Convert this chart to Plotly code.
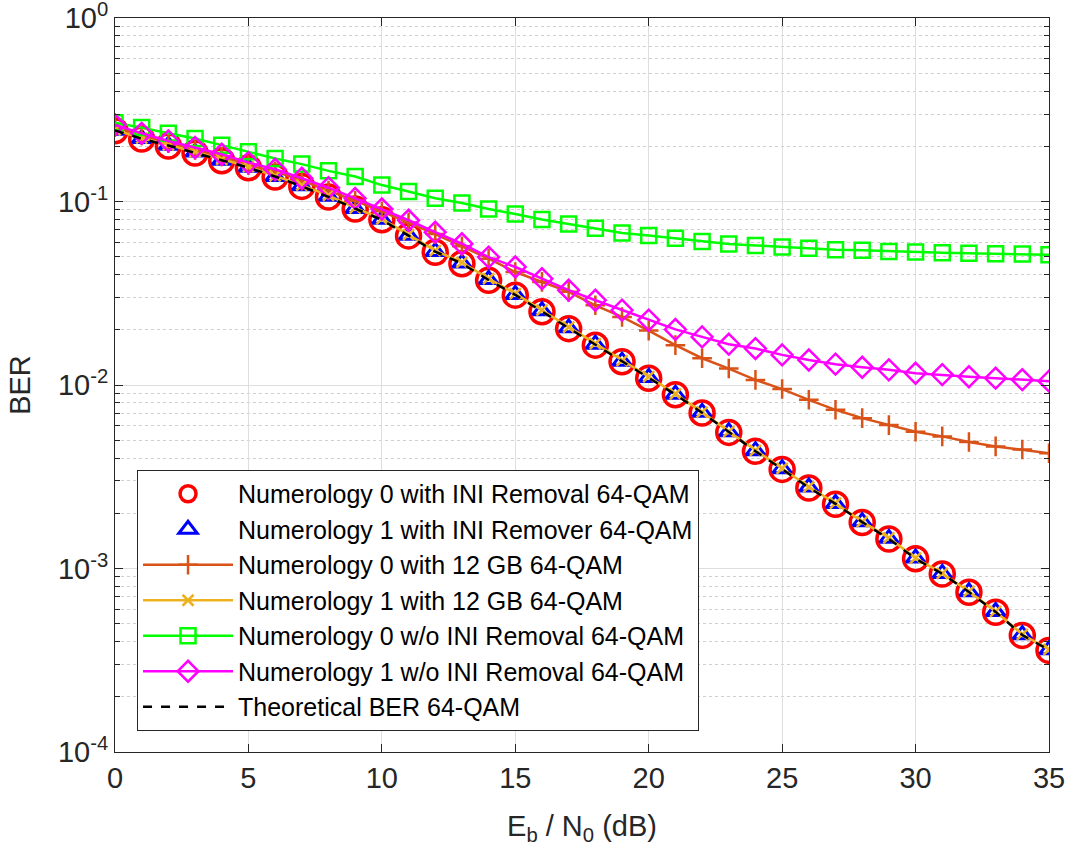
import plotly.graph_objects as go

ebn0 = list(range(0, 36))

num0_ini_removal = [0.243, 0.219, 0.201, 0.184, 0.167, 0.153, 0.136, 0.121, 0.106, 0.0911,
                    0.0795, 0.0650, 0.0530, 0.0458, 0.0372, 0.0309, 0.0251, 0.0203, 0.0165, 0.0134,
                    0.0109, 0.00885, 0.00704, 0.00552, 0.00435, 0.00347, 0.00275, 0.00224, 0.00178, 0.00145,
                    0.00113, 0.000934, 0.000742, 0.000578, 0.000432, 0.000358]

num1_ini_remover = [0.245, 0.221, 0.203, 0.186, 0.168, 0.154, 0.137, 0.122, 0.107, 0.0918,
                    0.0800, 0.0655, 0.0535, 0.0462, 0.0376, 0.0312, 0.0254, 0.0205, 0.0167, 0.0135,
                    0.0110, 0.00892, 0.00710, 0.00557, 0.00439, 0.00350, 0.00278, 0.00226, 0.00180, 0.00146,
                    0.00114, 0.000940, 0.000748, 0.000583, 0.000436, 0.000361]

num0_12gb = [0.255, 0.229, 0.208, 0.191, 0.176, 0.158, 0.146, 0.130, 0.115, 0.101,
             0.0885, 0.0770, 0.0665, 0.0570, 0.0488, 0.0413, 0.0365, 0.0322, 0.0272, 0.0235,
             0.0198, 0.0165, 0.0140, 0.0123, 0.01067, 0.00951, 0.00831, 0.00733, 0.00660, 0.00605,
             0.00557, 0.00525, 0.00489, 0.00463, 0.00445, 0.00425]

num1_12gb = [0.246, 0.222, 0.204, 0.187, 0.170, 0.155, 0.138, 0.123, 0.108, 0.0925,
             0.0805, 0.0660, 0.0540, 0.0466, 0.0380, 0.0315, 0.0256, 0.0207, 0.0168, 0.0136,
             0.0111, 0.00895, 0.00712, 0.00558, 0.00440, 0.00351, 0.00279, 0.00227, 0.00180, 0.00147,
             0.00114, 0.000942, 0.000750, 0.000584, 0.000437, 0.000362]

num0_wo_ini = [0.269, 0.253, 0.2355, 0.2205, 0.203, 0.1867, 0.1717, 0.160, 0.147, 0.137,
               0.123, 0.1134, 0.1042, 0.0982, 0.0911, 0.0856, 0.0798, 0.0755, 0.0716, 0.0675,
               0.0653, 0.0632, 0.0606, 0.0588, 0.0577, 0.0565, 0.0557, 0.0546, 0.0542, 0.0535,
               0.0531, 0.0526, 0.0522, 0.0519, 0.0518, 0.0513]

num1_wo_ini = [0.262, 0.2355, 0.214, 0.197, 0.181, 0.163, 0.150, 0.134, 0.119, 0.104,
               0.0911, 0.0791, 0.0681, 0.0589, 0.0498, 0.0440, 0.0380, 0.0329, 0.0290, 0.0256,
               0.0226, 0.0201, 0.0183, 0.0167, 0.0158, 0.0146, 0.0137, 0.0130, 0.0125, 0.0121,
               0.0116, 0.0114, 0.0111, 0.0109, 0.0107, 0.0105]

theory = [0.244, 0.220, 0.202, 0.185, 0.168, 0.153, 0.137, 0.121, 0.106, 0.0915,
          0.0795, 0.0652, 0.0533, 0.0460, 0.0374, 0.0310, 0.0252, 0.0204, 0.0166, 0.0134,
          0.0109, 0.00888, 0.00706, 0.00554, 0.00436, 0.00348, 0.00276, 0.00225, 0.00179, 0.00145,
          0.00113, 0.000936, 0.000744, 0.000580, 0.000434, 0.000359]

y_tickvals = [1e-4, 1e-3, 1e-2, 1e-1, 1e0]
y_ticktext = ["10<sup>-4</sup>", "10<sup>-3</sup>", "10<sup>-2</sup>", "10<sup>-1</sup>", "10<sup>0</sup>"]
x_tickvals = [0, 5, 10, 15, 20, 25, 30, 35]

FONT = "Liberation Sans, Arial, sans-serif"
AXC = "#262626"

fig = go.Figure()

fig.add_trace(go.Scatter(
    x=ebn0, y=num0_ini_removal, mode="markers", name="Numerology 0 with INI Removal 64-QAM",
    marker=dict(symbol="circle-open", size=24, color="#FF0000", line=dict(width=3.5, color="#FF0000")),
    legendgroup="a"))
fig.add_trace(go.Scatter(
    x=ebn0, y=num1_ini_remover, mode="markers", name="Numerology 1 with INI Remover 64-QAM",
    marker=dict(symbol="triangle-up-open", size=16, color="#0000FF", line=dict(width=3, color="#0000FF")),
    legendgroup="b"))
fig.add_trace(go.Scatter(
    x=ebn0, y=num0_12gb, mode="lines+markers", name="Numerology 0 with 12 GB 64-QAM",
    line=dict(color="#D95319", width=2.5),
    marker=dict(symbol="cross-thin-open", size=14, color="#D95319", line=dict(width=2.5, color="#D95319")),
    legendgroup="c"))
fig.add_trace(go.Scatter(
    x=ebn0, y=num1_12gb, mode="lines+markers", name="Numerology 1 with 12 GB 64-QAM",
    line=dict(color="#EDB120", width=2.5),
    marker=dict(symbol="x-thin-open", size=11, color="#EDB120", line=dict(width=2.5, color="#EDB120")),
    legendgroup="d"))
fig.add_trace(go.Scatter(
    x=ebn0, y=num0_wo_ini, mode="lines+markers", name="Numerology 0 w/o INI Removal 64-QAM",
    line=dict(color="#00FF00", width=2.5),
    marker=dict(symbol="square-open", size=15, color="#00FF00", line=dict(width=2.5, color="#00FF00")),
    legendgroup="e"))
fig.add_trace(go.Scatter(
    x=ebn0, y=num1_wo_ini, mode="lines+markers", name="Numerology 1 w/o INI Removal 64-QAM",
    line=dict(color="#FF00FF", width=2.5),
    marker=dict(symbol="diamond-open", size=16, color="#FF00FF", line=dict(width=2.5, color="#FF00FF")),
    legendgroup="f"))
fig.add_trace(go.Scatter(
    x=ebn0, y=theory, mode="lines", name="Theoretical BER 64-QAM",
    line=dict(color="#000000", width=2.5, dash="dash"),
    legendgroup="g"))

fig.update_layout(
    width=1079, height=856,
    paper_bgcolor="white", plot_bgcolor="white",
    margin=dict(l=115, r=30, t=18, b=104),
    font=dict(family=FONT, size=26, color=AXC),
    legend=dict(
        x=0.0236, y=0.3842, xanchor="left", yanchor="top",
        bgcolor="white", bordercolor=AXC, borderwidth=1,
        font=dict(family=FONT, size=25, color="#000000"),
        itemwidth=90, tracegroupgap=0,
    ),
    showlegend=True,
)

fig.update_xaxes(
    range=[0, 35], tickvals=x_tickvals, automargin=False,
    tickfont=dict(family=FONT, size=29, color=AXC),
    showgrid=True, gridcolor="#DEDEDE", gridwidth=1,
    showline=True, linecolor=AXC, linewidth=1, mirror="ticks",
    ticks="inside", ticklen=8, tickcolor=AXC,
    zeroline=False,
    title=dict(text="E<sub>b</sub> / N<sub>0</sub> (dB)", font=dict(family=FONT, size=29, color=AXC), standoff=22),
)
fig.update_yaxes(
    type="log", range=[-4, 0.0005], automargin=False,
    tickmode="array", tickvals=y_tickvals, ticktext=y_ticktext,
    tickfont=dict(family=FONT, size=29, color=AXC),
    ticklabeloverflow="allow",
    showgrid=True, gridcolor="#DEDEDE", gridwidth=1,
    showline=True, linecolor=AXC, linewidth=1, mirror="ticks",
    ticks="inside", ticklen=8, tickcolor=AXC,
    minor=dict(dtick="D1", showgrid=True, gridcolor="#D0D0D0", griddash="dot", gridwidth=1,
               ticks="inside", ticklen=5, tickcolor=AXC),
    zeroline=False,
    title=dict(text="BER", font=dict(family=FONT, size=29, color=AXC), standoff=18),
)

fig.write_html("out.html", config={"displayModeBar": False},
               post_script="document.body.style.margin='0';")
